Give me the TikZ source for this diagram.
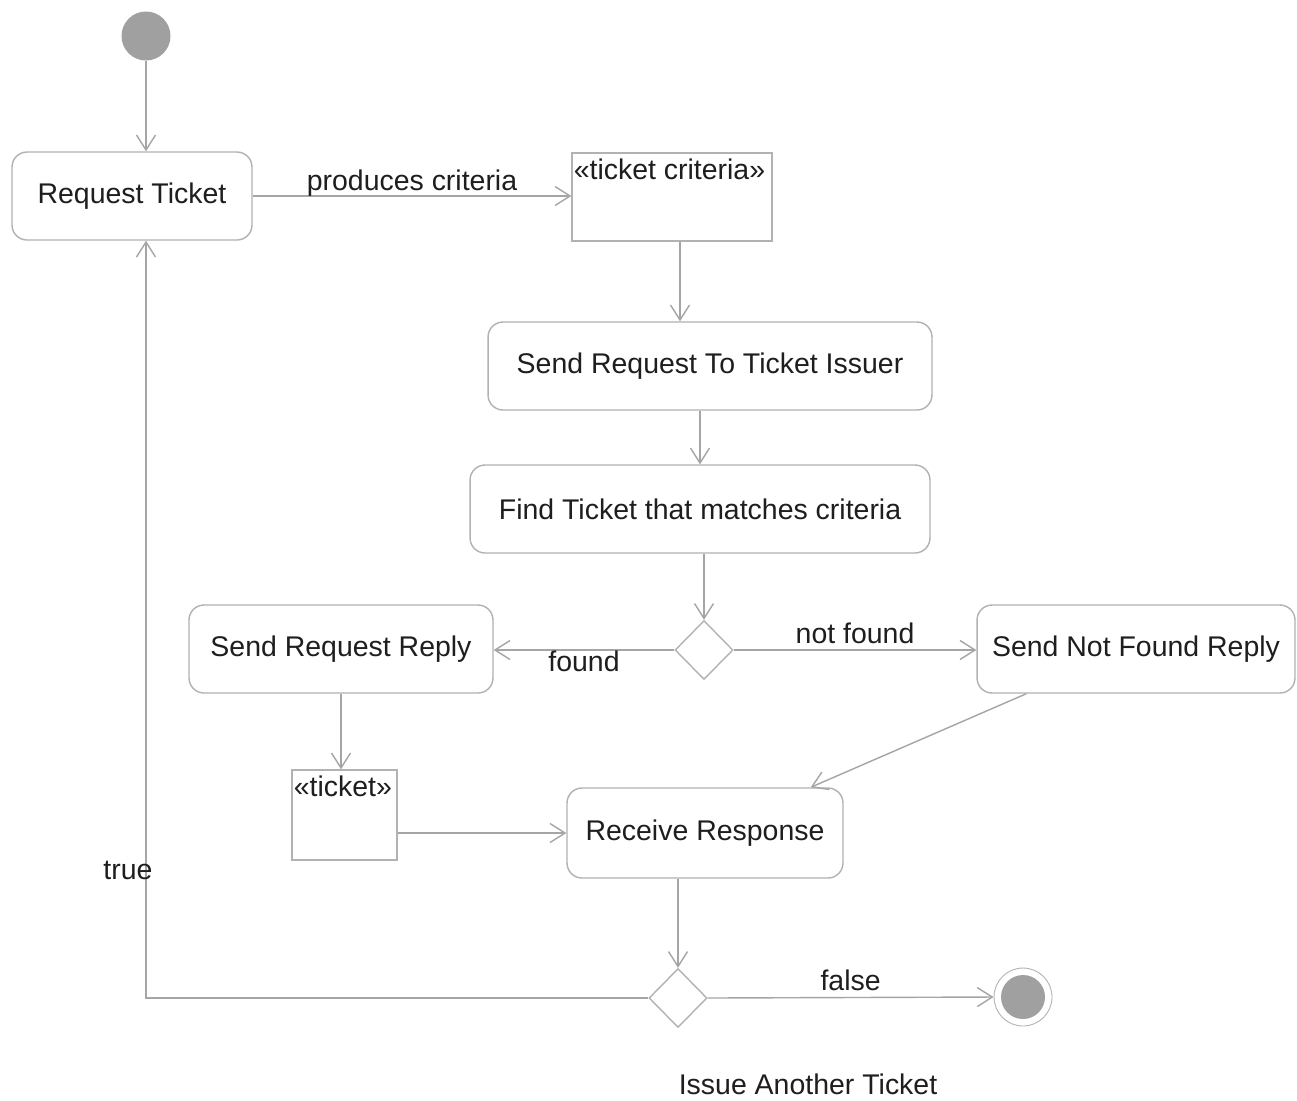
\documentclass[tikz,border=0pt]{standalone}
\usepackage{fontspec}
\setmainfont{Liberation Sans}
\usetikzlibrary{positioning, calc, shapes.geometric}
\usetikzlibrary{arrows.meta}

\begin{document}
\begin{tikzpicture}[x=0.02cm, y=-0.02cm, font=\fontsize{16.2}{20}\selectfont, >={Straight Barb[length=3mm, width=3.8mm]}, line width=0.8pt,
    action/.style={draw=boxgray, rounded corners=0.3cm, fill=white, text=txt, minimum height=1.76cm, inner sep=0pt},
    object/.style={draw=boxgray, fill=white, text=txt, inner sep=0pt},
    decision/.style={draw=boxgray, diamond, fill=white, inner sep=0pt, minimum width=1.16cm, minimum height=1.18cm},
    flow/.style={->, draw=linegray},
    guard/.style={text=txt}]
        % Define colors
        \definecolor{boxgray}{RGB}{178,178,178}
        \definecolor{linegray}{RGB}{165,165,165}
        \definecolor{dotgray}{RGB}{160,160,160}
        \definecolor{txt}{RGB}{30,30,30}

        % Canvas
        \fill[white] (0,0) rectangle (1297,1100);
        \useasboundingbox (0,0) rectangle (1297,1100);

        % Nodes
        \node[circle, fill=dotgray, minimum size=0.98cm, inner sep=0pt] (start) at (146,36) {};
        \node[action, minimum width=4.8cm] (req) at (132,196) {Request Ticket};
        \node[object, minimum width=4cm, minimum height=1.76cm,
              label={[anchor=north west, inner xsep=1pt, inner ysep=3.5pt, text=txt]north west:«ticket criteria»}] (crit) at (672,197) {};
        \node[action, minimum width=8.88cm] (send) at (710,366) {Send Request To Ticket Issuer};
        \node[action, minimum width=9.2cm] (find) at (700,509) {Find Ticket that matches criteria};
        \node[decision] (dec1) at (704,650) {};
        \node[action, minimum width=6.08cm] (reply) at (341,649) {Send Request Reply};
        \node[action, minimum width=6.36cm] (nf) at (1136,649) {Send Not Found Reply};
        \node[object, minimum width=2.1cm, minimum height=1.8cm,
              label={[anchor=north west, inner xsep=1pt, inner ysep=3.5pt, text=txt]north west:«ticket»}] (tick) at (344.5,815) {};
        \node[action, minimum width=5.52cm, minimum height=1.8cm] (recv) at (705,833) {Receive Response};
        \node[decision] (dec2) at (678,998) {};
        \node[circle, draw=boxgray, line width=0.5pt, minimum size=1.16cm, inner sep=0pt,
              path picture={\fill[dotgray] (path picture bounding box.center) circle (0.44cm);}] (stop) at (1023,997) {};
        \node[guard] (issue) at (808,1084) {Issue Another Ticket};

        \coordinate (critout) at ($(crit.south)+(8,0)$);
        \coordinate (nfout) at ($(nf.south west)+(50,0)$);
        \coordinate (recvin) at ($(recv.north east)+(-33,0)$);
        \coordinate (reqin) at ($(req.south)+(14,0)$);

        % Edges
        \draw[flow] (start) -- (start |- req.north);
        \draw[flow] (req.east) -- node[above, guard, yshift=-4pt] {produces criteria} (req.east -| crit.west);
        \draw[flow] (critout) -- (critout |- send.north);
        \draw[flow] (send.south -| find.north) -- (find.north);
        \draw[flow] (find.south -| dec1.north) -- (dec1.north);
        \draw[flow] (dec1.west) -- node[below, guard, yshift=3pt] {found} (dec1.west -| reply.east);
        \draw[flow] (dec1.east) -- node[above, guard] {not found} (dec1.east -| nf.west);
        \draw[flow] (reply.south) -- (reply.south |- tick.north);
        \draw[flow] (recv.west -| tick.east) -- (recv.west);
        \draw[flow] (nfout) -- (recvin);
        \draw[flow] (recv.south -| dec2.north) -- (dec2.north);
        \draw[flow] (dec2.east) -- node[above, guard] {false} (stop.west);
        \draw[flow] (dec2.west) -| node[pos=0.584, guard, xshift=-0.36cm] {true} (reqin);
\end{tikzpicture}
\end{document}
